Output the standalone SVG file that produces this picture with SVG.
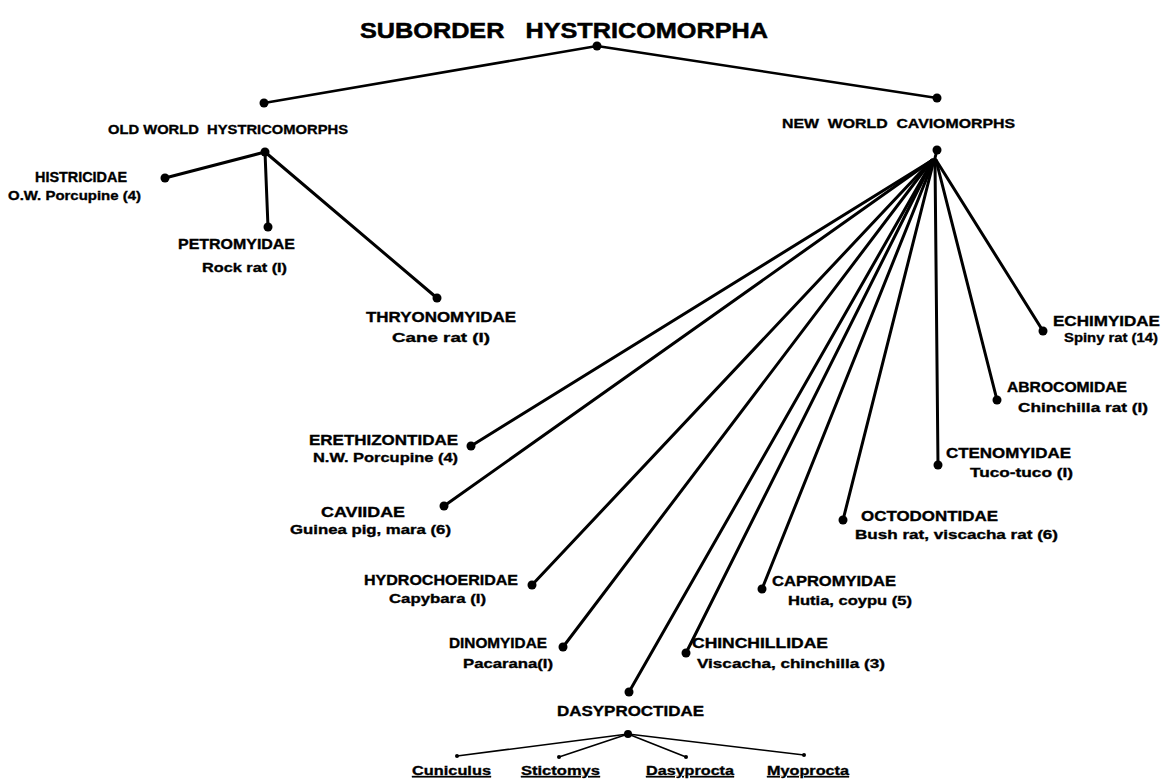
<svg xmlns="http://www.w3.org/2000/svg" width="1174" height="782" viewBox="0 0 1174 782">
<style>
text{font-family:"Liberation Sans",Arial,sans-serif;font-weight:bold;fill:#000;stroke:#000;stroke-width:0.35;white-space:pre}
.t{font-size:22px;stroke-width:0.5}
.g{font-size:13.5px}
.f{font-size:14px}
.c{font-size:13px}
.s{font-size:13.5px;text-decoration:underline}
.ln{stroke:#000;stroke-width:3;stroke-linecap:round;fill:none}
.lt{stroke:#000;stroke-width:2.5;stroke-linecap:round;fill:none}
.lg{stroke:#000;stroke-width:1.6;stroke-linecap:round;fill:none}
.d{fill:#000}
</style>
<rect width="1174" height="782" fill="#fff"/>
<g id="connectors">
<line class="lt" x1="597" y1="46" x2="264" y2="103"/>
<line class="lt" x1="597" y1="46" x2="937" y2="98"/>
<line class="ln" x1="265" y1="152" x2="165" y2="178"/>
<line class="ln" x1="265" y1="152" x2="268" y2="227"/>
<line class="ln" x1="265" y1="152" x2="437" y2="298"/>
<line class="ln" x1="937" y1="150" x2="934" y2="162"/>
<line class="ln" x1="936" y1="160" x2="1043" y2="331"/>
<line class="ln" x1="936" y1="160" x2="997" y2="400"/>
<line class="ln" x1="935" y1="160" x2="938" y2="465"/>
<line class="ln" x1="934" y1="160" x2="843" y2="520"/>
<line class="ln" x1="934" y1="160" x2="762" y2="589"/>
<line class="ln" x1="933" y1="160" x2="686" y2="653"/>
<line class="ln" x1="933" y1="160" x2="629" y2="692"/>
<line class="ln" x1="932" y1="160" x2="563" y2="647"/>
<line class="ln" x1="932" y1="160" x2="532" y2="585"/>
<line class="ln" x1="931" y1="161" x2="444" y2="506"/>
<line class="ln" x1="931" y1="161" x2="471" y2="446"/>
<line class="lg" x1="628" y1="734" x2="457" y2="756"/>
<line class="lg" x1="628" y1="734" x2="559" y2="757"/>
<line class="lg" x1="628" y1="734" x2="686" y2="757"/>
<line class="lg" x1="628" y1="734" x2="804" y2="755"/>
</g>
<g id="root">
<text class="t" x="360" y="38" textLength="408" lengthAdjust="spacingAndGlyphs">SUBORDER   HYSTRICOMORPHA</text>
<circle class="d" cx="597" cy="46" r="4.5"/>
</g>
<g id="old-world">
<circle class="d" cx="264" cy="103" r="4.5"/>
<text class="g" x="108" y="134" textLength="240" lengthAdjust="spacingAndGlyphs">OLD WORLD  HYSTRICOMORPHS</text>
<circle class="d" cx="265" cy="152" r="4.5"/>
</g>
<g id="histricidae">
<circle class="d" cx="165" cy="178" r="4.5"/>
<text class="f" x="35" y="182" textLength="92" lengthAdjust="spacingAndGlyphs">HISTRICIDAE</text>
<text class="c" x="8" y="200" textLength="133" lengthAdjust="spacingAndGlyphs">O.W. Porcupine (4)</text>
</g>
<g id="petromyidae">
<circle class="d" cx="268" cy="227" r="4.5"/>
<text class="f" x="178" y="249" textLength="117" lengthAdjust="spacingAndGlyphs">PETROMYIDAE</text>
<text class="c" x="202" y="272" textLength="85" lengthAdjust="spacingAndGlyphs">Rock rat (I)</text>
</g>
<g id="thryonomyidae">
<circle class="d" cx="437" cy="298" r="4.5"/>
<text class="f" x="366" y="322" textLength="150" lengthAdjust="spacingAndGlyphs">THRYONOMYIDAE</text>
<text class="c" x="392" y="342" textLength="98" lengthAdjust="spacingAndGlyphs">Cane rat (I)</text>
</g>
<g id="new-world">
<circle class="d" cx="937" cy="98" r="4.5"/>
<text class="g" x="782" y="128" textLength="233" lengthAdjust="spacingAndGlyphs">NEW  WORLD  CAVIOMORPHS</text>
<circle class="d" cx="937" cy="150" r="4.5"/>
</g>
<g id="echimyidae">
<circle class="d" cx="1043" cy="331" r="4.5"/>
<text class="f" x="1053" y="326" textLength="107" lengthAdjust="spacingAndGlyphs">ECHIMYIDAE</text>
<text class="c" x="1064" y="342" textLength="94" lengthAdjust="spacingAndGlyphs">Spiny rat (14)</text>
</g>
<g id="abrocomidae">
<circle class="d" cx="997" cy="400" r="4.5"/>
<text class="f" x="1007" y="392" textLength="120" lengthAdjust="spacingAndGlyphs">ABROCOMIDAE</text>
<text class="c" x="1018" y="412" textLength="130" lengthAdjust="spacingAndGlyphs">Chinchilla rat (I)</text>
</g>
<g id="ctenomyidae">
<circle class="d" cx="938" cy="465" r="4.5"/>
<text class="f" x="946" y="458" textLength="125" lengthAdjust="spacingAndGlyphs">CTENOMYIDAE</text>
<text class="c" x="970" y="477" textLength="103" lengthAdjust="spacingAndGlyphs">Tuco-tuco (I)</text>
</g>
<g id="octodontidae">
<circle class="d" cx="843" cy="520" r="4.5"/>
<text class="f" x="861" y="521" textLength="137" lengthAdjust="spacingAndGlyphs">OCTODONTIDAE</text>
<text class="c" x="855" y="539" textLength="203" lengthAdjust="spacingAndGlyphs">Bush rat, viscacha rat (6)</text>
</g>
<g id="capromyidae">
<circle class="d" cx="762" cy="589" r="4.5"/>
<text class="f" x="772" y="586" textLength="124" lengthAdjust="spacingAndGlyphs">CAPROMYIDAE</text>
<text class="c" x="788" y="605" textLength="124" lengthAdjust="spacingAndGlyphs">Hutia, coypu (5)</text>
</g>
<g id="chinchillidae">
<circle class="d" cx="686" cy="653" r="4.5"/>
<text class="f" x="692" y="648" textLength="136" lengthAdjust="spacingAndGlyphs">CHINCHILLIDAE</text>
<text class="c" x="697" y="668" textLength="188" lengthAdjust="spacingAndGlyphs">Viscacha, chinchilla (3)</text>
</g>
<g id="dasyproctidae">
<circle class="d" cx="629" cy="692" r="4.5"/>
<text class="f" x="557" y="716" textLength="147" lengthAdjust="spacingAndGlyphs">DASYPROCTIDAE</text>
<circle class="d" cx="628" cy="734" r="4"/>
</g>
<g id="dinomyidae">
<circle class="d" cx="563" cy="647" r="4.5"/>
<text class="f" x="449" y="648" textLength="98" lengthAdjust="spacingAndGlyphs">DINOMYIDAE</text>
<text class="c" x="463" y="668" textLength="90" lengthAdjust="spacingAndGlyphs">Pacarana(I)</text>
</g>
<g id="hydrochoeridae">
<circle class="d" cx="532" cy="585" r="4.5"/>
<text class="f" x="364" y="585" textLength="154" lengthAdjust="spacingAndGlyphs">HYDROCHOERIDAE</text>
<text class="c" x="389" y="603" textLength="97" lengthAdjust="spacingAndGlyphs">Capybara (I)</text>
</g>
<g id="caviidae">
<circle class="d" cx="444" cy="506" r="4.5"/>
<text class="f" x="321" y="517" textLength="84" lengthAdjust="spacingAndGlyphs">CAVIIDAE</text>
<text class="c" x="290" y="534" textLength="161" lengthAdjust="spacingAndGlyphs">Guinea pig, mara (6)</text>
</g>
<g id="erethizontidae">
<circle class="d" cx="471" cy="446" r="4.5"/>
<text class="f" x="309" y="445" textLength="149" lengthAdjust="spacingAndGlyphs">ERETHIZONTIDAE</text>
<text class="c" x="313" y="462" textLength="145" lengthAdjust="spacingAndGlyphs">N.W. Porcupine (4)</text>
</g>
<g id="cuniculus">
<circle class="d" cx="457" cy="756" r="2"/>
<text class="s" x="412" y="775" textLength="79" lengthAdjust="spacingAndGlyphs">Cuniculus</text>
</g>
<g id="stictomys">
<circle class="d" cx="559" cy="757" r="2"/>
<text class="s" x="521" y="775" textLength="79" lengthAdjust="spacingAndGlyphs">Stictomys</text>
</g>
<g id="dasyprocta">
<circle class="d" cx="686" cy="757" r="2"/>
<text class="s" x="646" y="775" textLength="88" lengthAdjust="spacingAndGlyphs">Dasyprocta</text>
</g>
<g id="myoprocta">
<circle class="d" cx="804" cy="755" r="2"/>
<text class="s" x="767" y="775" textLength="82" lengthAdjust="spacingAndGlyphs">Myoprocta</text>
</g>
</svg>
